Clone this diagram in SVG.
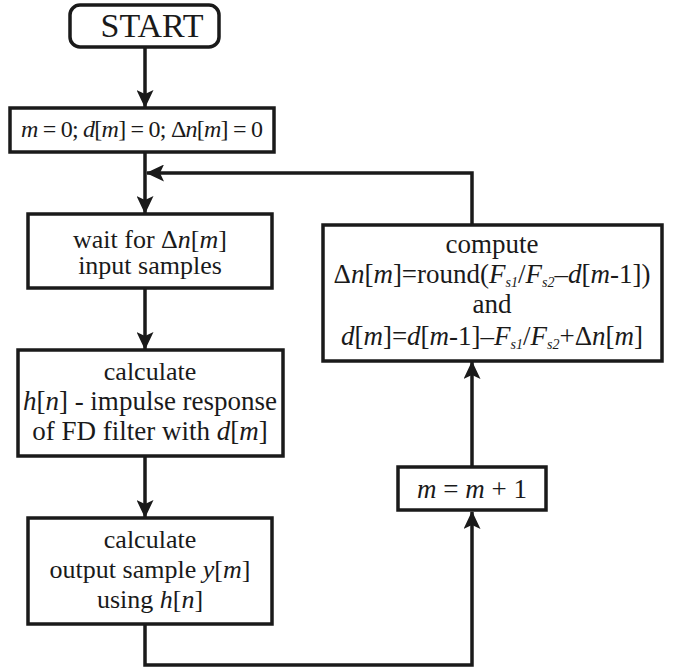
<svg xmlns="http://www.w3.org/2000/svg" width="675" height="669" viewBox="0 0 675 669">
<style>
.box{fill:#fff;stroke:#1a1a1a;stroke-width:3.5}
.ln{fill:none;stroke:#1a1a1a;stroke-width:3.5}
text{font-family:"Liberation Serif","Times New Roman",serif;font-size:26px;fill:#1a1a1a;text-anchor:middle}
.i{font-style:italic}
.sub{font-size:14px;font-style:italic}
</style>
<defs>
<marker id="ah" viewBox="0 0 18 17" refX="17" refY="8.5" markerWidth="18" markerHeight="17" markerUnits="userSpaceOnUse" orient="auto">
<path d="M0,0 L18,8.5 L0,17 L4,8.5 z" fill="#1a1a1a"/>
</marker>
</defs>
<g id="connectors">
<line class="ln" x1="145" y1="47" x2="145" y2="107" marker-end="url(#ah)"/>
<line class="ln" x1="145" y1="152" x2="145" y2="213" marker-end="url(#ah)"/>
<polyline class="ln" points="472,225 472,173 147,173" marker-end="url(#ah)"/>
<line class="ln" x1="145" y1="288" x2="145" y2="349" marker-end="url(#ah)"/>
<line class="ln" x1="145" y1="456" x2="145" y2="517" marker-end="url(#ah)"/>
<polyline class="ln" points="145,624 145,665 472,665 472,512" marker-end="url(#ah)"/>
<line class="ln" x1="472" y1="466" x2="472" y2="362" marker-end="url(#ah)"/>
</g>
<g id="start">
<rect class="box" x="70" y="5" width="149" height="42" rx="10"/>
<text x="152" y="37" style="font-size:34px">START</text>
</g>
<g id="init">
<rect class="box" x="10" y="108" width="264" height="44"/>
<text x="142" y="137" style="font-size:24px" textLength="242" lengthAdjust="spacing"><tspan class="i">m</tspan> = 0; <tspan class="i">d</tspan>[<tspan class="i">m</tspan>] = 0; Δ<tspan class="i">n</tspan>[<tspan class="i">m</tspan>] = 0</text>
</g>
<g id="wait">
<rect class="box" x="28" y="214" width="244" height="74"/>
<text x="150" y="248">wait for Δ<tspan class="i">n</tspan>[<tspan class="i">m</tspan>]</text>
<text x="150" y="274">input samples</text>
</g>
<g id="calc">
<rect class="box" x="18" y="350" width="265" height="106"/>
<text x="150" y="380">calculate</text>
<text x="150" y="410" style="font-size:27px"><tspan class="i">h</tspan>[<tspan class="i">n</tspan>] - impulse response</text>
<text x="150" y="440" style="font-size:27px">of FD filter with <tspan class="i">d</tspan>[<tspan class="i">m</tspan>]</text>
</g>
<g id="output">
<rect class="box" x="28" y="518" width="244" height="106"/>
<text x="150" y="548">calculate</text>
<text x="150" y="578">output sample <tspan class="i">y</tspan>[<tspan class="i">m</tspan>]</text>
<text x="150" y="608">using <tspan class="i">h</tspan>[<tspan class="i">n</tspan>]</text>
</g>
<g id="increment">
<rect class="box" x="398" y="467" width="148" height="43"/>
<text x="472" y="498" style="font-size:27px"><tspan class="i">m</tspan> = <tspan class="i">m</tspan> + 1</text>
</g>
<g id="compute">
<rect class="box" x="323" y="225" width="339" height="136"/>
<text x="492" y="253" style="font-size:27px">compute</text>
<text x="492" y="283" style="font-size:27px">Δ<tspan class="i">n</tspan>[<tspan class="i">m</tspan>]=round(<tspan class="i">F</tspan><tspan class="sub" dy="4">s1</tspan><tspan dy="-4">/</tspan><tspan class="i">F</tspan><tspan class="sub" dy="4">s2</tspan><tspan dy="-4">–</tspan><tspan class="i">d</tspan>[<tspan class="i">m</tspan>-1])</text>
<text x="492" y="313" style="font-size:27px">and</text>
<text x="492" y="345" style="font-size:27px"><tspan class="i">d</tspan>[<tspan class="i">m</tspan>]=<tspan class="i">d</tspan>[<tspan class="i">m</tspan>-1]–<tspan class="i">F</tspan><tspan class="sub" dy="4">s1</tspan><tspan dy="-4">/</tspan><tspan class="i">F</tspan><tspan class="sub" dy="4">s2</tspan><tspan dy="-4">+Δ</tspan><tspan class="i">n</tspan>[<tspan class="i">m</tspan>]</text>
</g>
</svg>
